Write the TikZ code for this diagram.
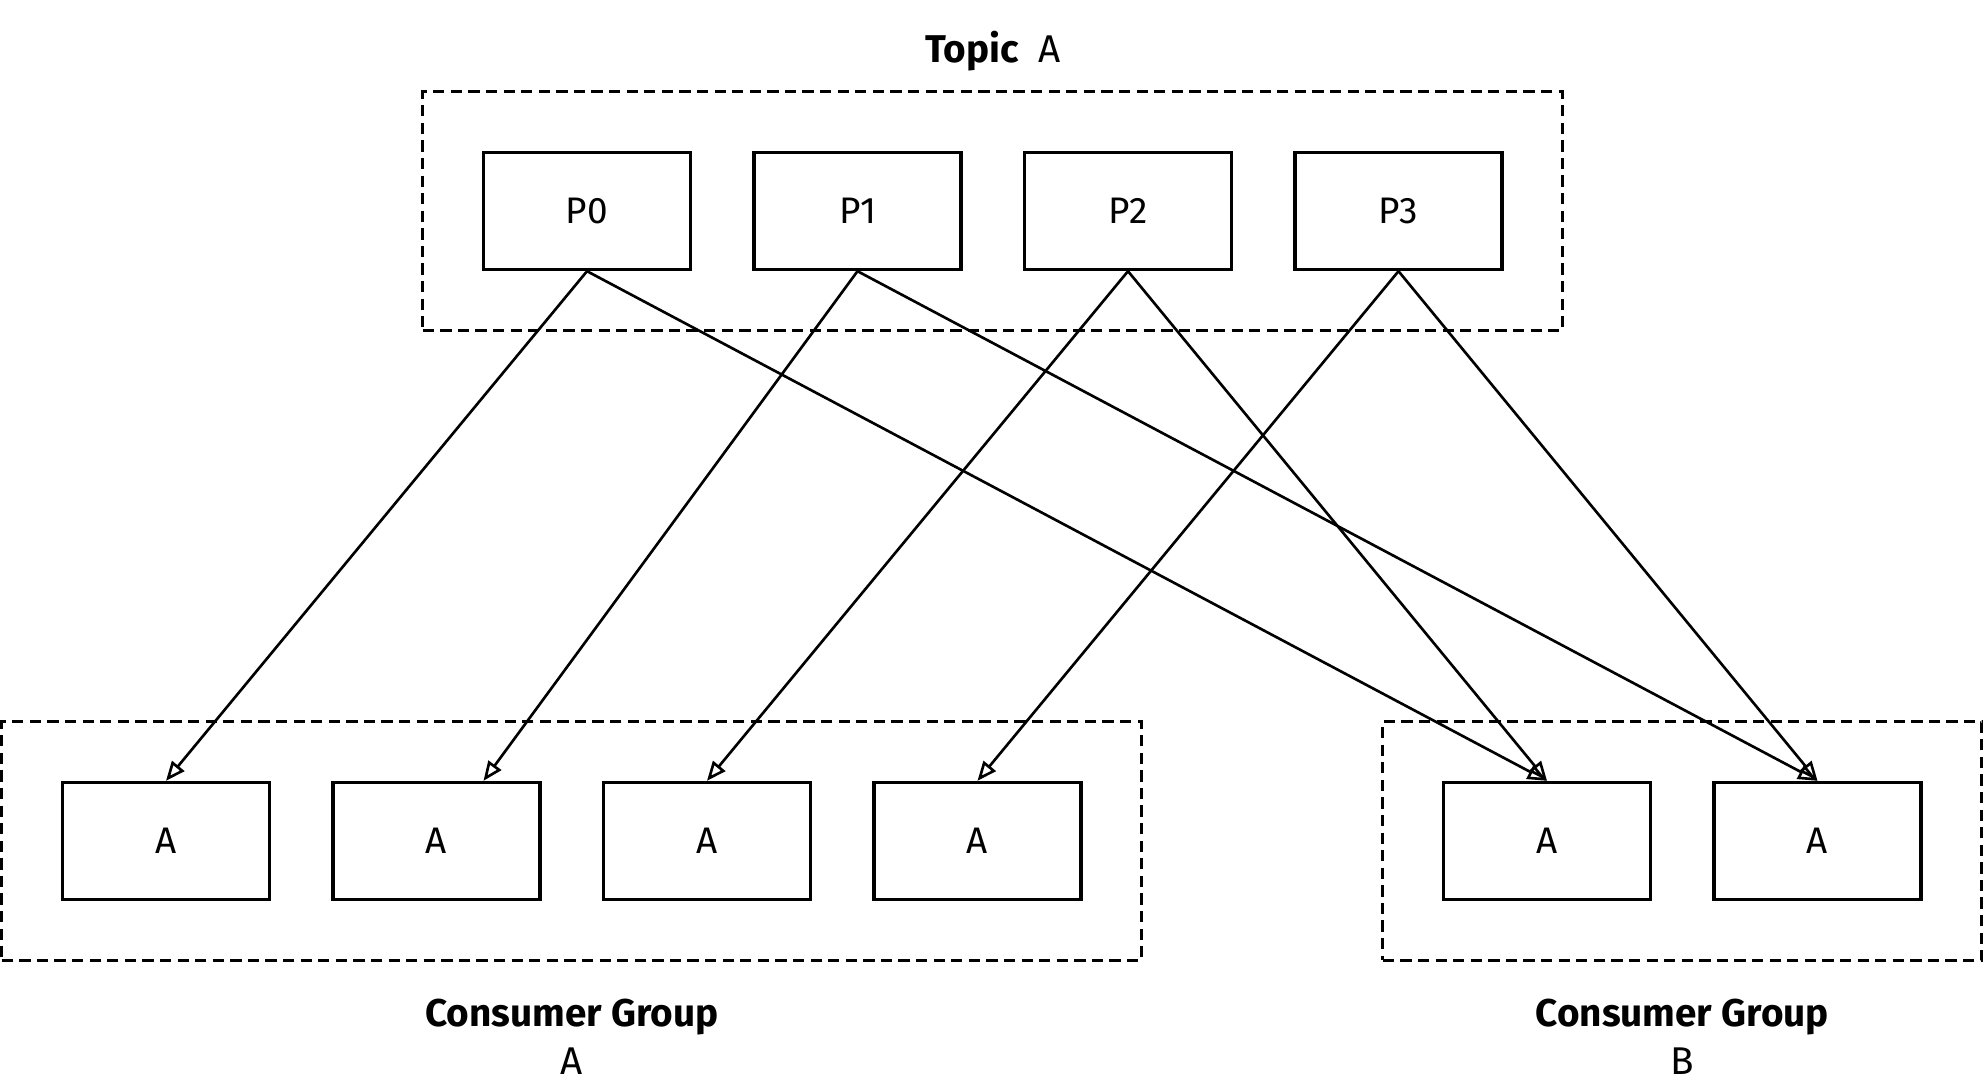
\documentclass[tikz,border=0pt]{standalone}
\usepackage{fontspec}
\setmainfont{Fira Sans}
\usepackage{tikz}
\usetikzlibrary{arrows.meta,positioning,fit}

\begin{document}
\begin{tikzpicture}[
  x=0.01cm, y=-0.01cm,
  node distance=6mm,
  part/.style={draw, line width=0.95pt, inner sep=0pt,
               minimum width=20.7mm, minimum height=11.7mm,
               font=\fontsize{10.5}{12}\selectfont},
  group/.style={draw, line width=0.85pt, dash pattern=on 3.2pt off 1.8pt,
                inner sep=5.9mm},
  title/.style={inner sep=0pt, align=center,
                font=\fontsize{11}{13.4}\selectfont\bfseries},
  feed/.style={draw, line width=0.75pt,
               -{Triangle[open,length=5.5pt,width=4.5pt]}},
]
\useasboundingbox (0,0) rectangle (1983,1083);

% topic partitions
\node[part] (p0) at (587,211) {P0};
\node[part, right=of p0] (p1) {P1};
\node[part, right=of p1] (p2) {P2};
\node[part, right=of p2] (p3) {P3};

% consumers of group A
\node[part] (a0) at (166,841) {A};
\node[part, right=of a0] (a1) {A};
\node[part, right=of a1] (a2) {A};
\node[part, right=of a2] (a3) {A};

% consumers of group B
\node[part] (b0) at (1547,841) {A};
\node[part, right=of b0] (b1) {A};

% dashed containers
\node[group, fit=(p0)(p3)] (topic) {};
\node[group, fit=(a0)(a3)] (groupA) {};
\node[group, fit=(b0)(b1)] (groupB) {};

\node[title, above=1.8mm of topic] (topicLabel) {Topic\hspace{0.5em}\mdseries A};
\node[title, below=3.7mm of groupA] (groupALabel) {Consumer Group\\\mdseries A};
\node[title, below=3.7mm of groupB] (groupBLabel) {Consumer Group\\\mdseries B};

% partition assignment
\draw[feed] (p0.south) -- (a0.north);
\draw[feed] (p1.south) -- ([xshift=4.7mm]a1.north);
\draw[feed] (p2.south) -- (a2.north);
\draw[feed] (p3.south) -- (a3.north);
\draw[feed] (p0.south) -- (b0.north);
\draw[feed] (p2.south) -- (b0.north);
\draw[feed] (p1.south) -- (b1.north);
\draw[feed] (p3.south) -- (b1.north);
\end{tikzpicture}
\end{document}
